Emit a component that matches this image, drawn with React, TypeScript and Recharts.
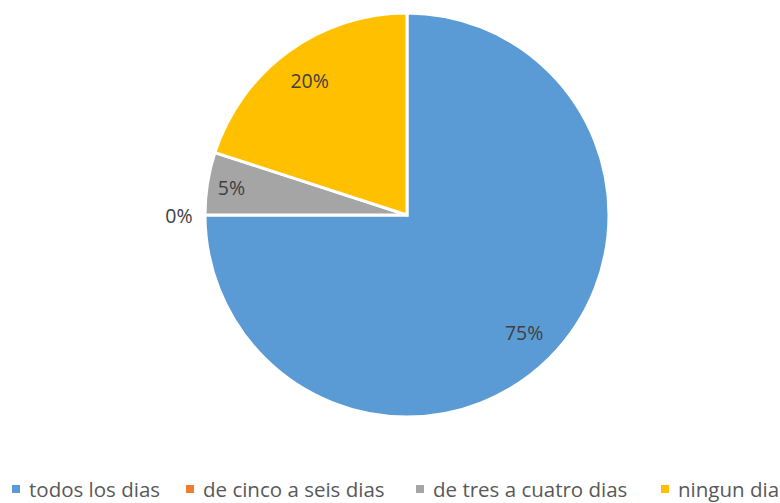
import React from 'react';
import { PieChart, Pie, Cell, Legend } from 'recharts';

const categories = ['todos los dias', 'de cinco a seis dias', 'de tres a cuatro dias', 'ningun dia'];
const shares = [75, 0, 5, 20];
const colors = ['#5B9BD5', '#ED7D31', '#A5A5A5', '#FFC000'];

const data = categories.map((name, i) => ({ name, value: shares[i] }));

const FONT = '"Open Sans", Lato, sans-serif';
const RAD = Math.PI / 180;
const legendX = [12, 186, 416, 661];

function renderLabel(props: any) {
  const { cx, cy, midAngle, outerRadius, value, index } = props;
  const r = value > 0 ? outerRadius * (index === 2 ? 0.88 : 0.82) : outerRadius + 26;
  const x = cx + r * Math.cos(-midAngle * RAD);
  const y = cy + r * Math.sin(-midAngle * RAD);
  return (
    <text x={x} y={y} fill="#404040" fontSize={19.5} fontFamily={FONT} textAnchor="middle" dominantBaseline="central">
      {`${value}%`}
    </text>
  );
}

function LegendContent() {
  return (
    <div style={{ position: 'relative', width: 800, height: 26, whiteSpace: 'nowrap', fontFamily: FONT, fontSize: 20.5, color: '#595959' }}>
      {categories.map((c, i) => (
        <div key={c} style={{ position: 'absolute', left: legendX[i], top: 0, display: 'flex', alignItems: 'center', height: 26 }}>
          <span style={{ width: 8, height: 8, background: colors[i], display: 'inline-block', marginRight: 9 }} />
          <span>{c}</span>
        </div>
      ))}
    </div>
  );
}

export default function App() {
  return (
    <div style={{ position: 'absolute', left: 0, top: 0, width: 780, height: 503, overflow: 'hidden', background: '#fff' }}>
      <PieChart width={780} height={503} margin={{ top: 0, right: 0, bottom: 0, left: 0 }}>
        <Pie
          data={data}
          dataKey="value"
          nameKey="name"
          cx={407}
          cy={215}
          outerRadius={202}
          startAngle={90}
          endAngle={-270}
          stroke="#fff"
          strokeWidth={3}
          label={renderLabel}
          labelLine={false}
          isAnimationActive={false}
        >
          {data.map((d, i) => (
            <Cell key={d.name} fill={colors[i]} />
          ))}
        </Pie>
        <Legend content={<LegendContent />} wrapperStyle={{ left: 0, top: 476, width: 800 }} />
      </PieChart>
    </div>
  );
}
